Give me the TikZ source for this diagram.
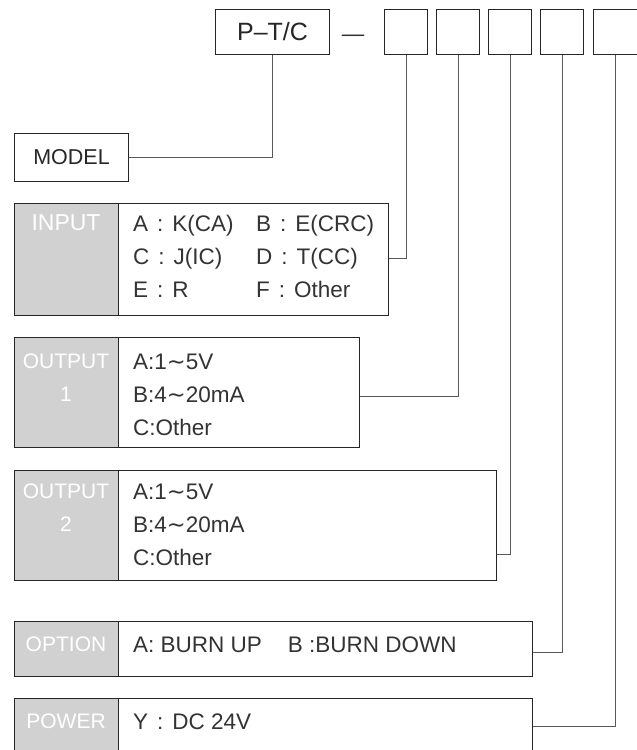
\documentclass[tikz,border=0pt]{standalone}
\usepackage{fontspec}
\setmainfont{Liberation Sans}
\newfontfamily\symfont{DejaVu Sans}
\newcommand{\wavy}{{\symfont ∼}}
\newcommand{\colsep}{\hspace{0.4em}:\hspace{0.4em}}
\begin{document}
\begin{tikzpicture}[x=1pt,y=-1pt,
  frame/.style={draw=black!85, line width=1pt, inner sep=0pt, anchor=north west, fill=white},
  greycell/.style={draw=black!85, line width=1pt, inner sep=0pt, anchor=north west, fill=black!18},
  wire/.style={draw=black!65, line width=1pt},
  txt/.style={font=\fontsize{22.5}{27}\selectfont, text=black!80, text height=16pt, text depth=0pt, inner sep=0pt, anchor=west},
  lbltxt/.style={font=\fontsize{21}{25}\selectfont, text=white, text height=15pt, text depth=0pt, inner sep=0pt, anchor=center},
  big/.style={font=\fontsize{25}{29}\selectfont, text=black!85}]
\useasboundingbox (0,0) rectangle (637,750);
\clip (0,0) rectangle (637,750);

% top code boxes
\node[frame, minimum width=114pt, minimum height=45pt, big] (ptc) at (215,9) {P–T/C};
\node[txt, anchor=center] (dash) at (353,33) {—};
\node[frame, minimum width=43pt, minimum height=45pt] (s1) at (384,9) {};
\node[frame, minimum width=43pt, minimum height=45pt] (s2) at (436,9) {};
\node[frame, minimum width=43pt, minimum height=45pt] (s3) at (488,9) {};
\node[frame, minimum width=43pt, minimum height=45pt] (s4) at (540,9) {};
\node[frame, minimum width=43.5pt, minimum height=45pt] (s5) at (593,9) {};

% model
\node[frame, minimum width=114pt, minimum height=48pt, font=\fontsize{21.5}{25}\selectfont, text=black!85] (model) at (14,133) {MODEL};

% input
\node[frame, minimum width=374pt, minimum height=112pt] (input) at (14,203) {};
\node[greycell, minimum width=104pt, minimum height=112pt] (inputlab) at (14,203) {};
\node[lbltxt, font=\fontsize{23}{27}\selectfont] (inputt) at (66,223) {INPUT};
\node[txt] (ia) at (133,223) {A\colsep K(CA)};
\node[txt] (ib) at (256,223) {B\colsep E(CRC)};
\node[txt] (ic) at (133,256) {C\colsep J(IC)};
\node[txt] (id) at (256,256) {D\colsep T(CC)};
\node[txt] (ie) at (133,289) {E\colsep R};
\node[txt] (if) at (256,289) {F\colsep Other};

% output 1
\node[frame, minimum width=345pt, minimum height=110pt] (out1) at (14,337) {};
\node[greycell, minimum width=104pt, minimum height=110pt] (out1lab) at (14,337) {};
\node[lbltxt] (out1t) at (66,361) {OUTPUT};
\node[lbltxt] (out1n) at (66,394) {1};
\node[txt] (o1a) at (133,361) {A:1\wavy 5V};
\node[txt] (o1b) at (133,394) {B:4\wavy 20mA};
\node[txt] (o1c) at (133,427) {C:Other};

% output 2
\node[frame, minimum width=482pt, minimum height=110pt] (out2) at (14,470) {};
\node[greycell, minimum width=104pt, minimum height=110pt] (out2lab) at (14,470) {};
\node[lbltxt] (out2t) at (66,491) {OUTPUT};
\node[lbltxt] (out2n) at (66,524) {2};
\node[txt] (o2a) at (133,491) {A:1\wavy 5V};
\node[txt] (o2b) at (133,524) {B:4\wavy 20mA};
\node[txt] (o2c) at (133,557) {C:Other};

% option
\node[frame, minimum width=518pt, minimum height=55pt] (opt) at (14,621) {};
\node[greycell, minimum width=104pt, minimum height=55pt] (optlab) at (14,621) {};
\node[lbltxt] (optt) at (66,644) {OPTION};
\node[txt] (opta) at (133,644) {A: BURN UP\hspace{26pt}B :BURN DOWN};

% power
\node[frame, minimum width=518pt, minimum height=56pt] (pow) at (14,698) {};
\node[greycell, minimum width=104pt, minimum height=56pt] (powlab) at (14,698) {};
\node[lbltxt] (powt) at (66,721) {POWER};
\node[txt] (powa) at (133,721) {Y\colsep DC 24V};

% connectors
\draw[wire] (model.east) -| (ptc.south);
\draw[wire] ([yshift=1pt]input.east) -| (s1.south);
\draw[wire] ([yshift=-4pt]out1.east) -| (s2.south);
\draw[wire] ([yshift=-29pt]out2.east) -| (s3.south);
\draw[wire] ([yshift=-3.5pt]opt.east) -| (s4.south);
\draw[wire] (pow.east) -| (s5.south);
\end{tikzpicture}
\end{document}
